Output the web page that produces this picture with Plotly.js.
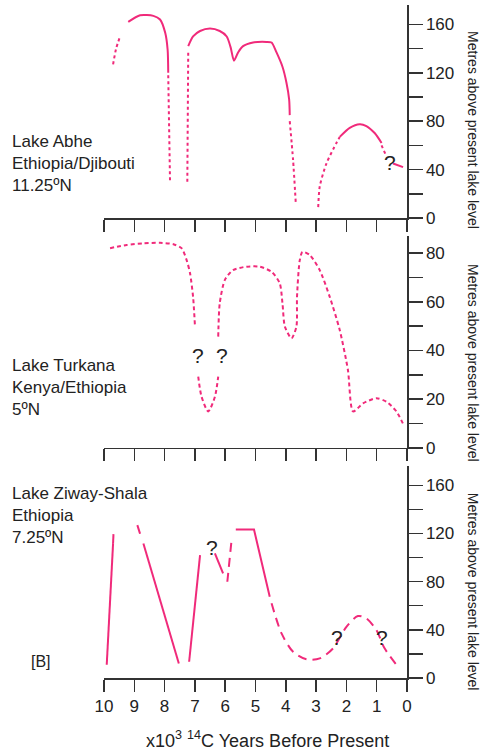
<!DOCTYPE html>
<html><head><meta charset="utf-8">
<script src="https://cdn.plot.ly/plotly-3.0.1.min.js"></script>
<style>html,body{margin:0;padding:0;background:#fff;}</style>
</head><body>
<div id="chart" style="width:482px;height:751px;"></div>
<script>
// ---- Data (x = 10^3 14C years BP, y = metres above present lake level) ----
// Lake Abhe
const abheSolidX = [9.2, 8.81, 8.37, 8.15, 7.98, 7.9, 7.88, null, 7.22, 7.06, 6.83, 6.5, 6.18, 5.95, 5.82, 5.71, 5.57, 5.41, 5.08, 4.64, 4.47, 4.31, 4.11, 3.98, 3.89, 3.87, null, 2.22, 1.89, 1.56, 1.34, 1.06, 0.84, null, 0.46, 0.13];
const abheSolidY = [162, 167.5, 167, 164, 153, 139, 120, null, 142, 150, 154.5, 156.5, 154.5, 150, 141, 130, 137, 142, 145, 145.5, 145, 137, 125, 112, 98, 85, null, 67, 74.5, 77.5, 76, 70, 62, null, 45, 42];
const abheDotX = [9.7, 9.6, 9.47, null, 7.88, 7.82, null, 7.25, 7.22, null, 3.87, 3.76, 3.67, null, 2.93, 2.88, 2.66, 2.33, 2.22, null, 0.84, 0.68];
const abheDotY = [127, 140, 150, null, 118, 29, null, 30, 137, null, 80, 48, 12, null, 9, 26, 45, 62, 67, null, 60, 51];
// Lake Turkana
const turkX = [9.8, 9.25, 8.7, 8.15, 7.71, 7.44, 7.27, 7.16, 7.06, 7.0, null, 6.89, 6.78, 6.56, 6.34, 6.23, null, 6.23, 6.18, 6.01, 5.74, 5.3, 4.86, 4.47, 4.2, 4.11, 4.03, 3.81, 3.65, 3.63, 3.54, 3.45, 3.21, 2.88, 2.55, 2.22, 1.95, 1.78, 1.45, 1.01, 0.68, 0.35, 0.11];
const turkY = [82, 83.3, 84, 84.2, 83.6, 82, 77, 71.7, 62, 50.5, null, 29.3, 21, 15, 21, 29.3, null, 45.7, 59.4, 69, 73, 74.4, 74.4, 72.3, 67.6, 59.4, 49.8, 45, 49.8, 62, 77, 80.5, 79.2, 73, 62, 48.4, 32, 15, 18.3, 20.4, 19, 15, 9.4];
// Lake Ziway-Shala
const ziwaySolidX = [9.91, 9.7, null, 8.7, 7.53, null, 7.19, 6.83, null, 6.34, 6.07, null, 5.65, 5.05, 4.53];
const ziwaySolidY = [11, 112, null, 111.7, 12, null, 13.5, 102, null, 103.4, 86.8, null, 123.3, 123.3, 67.4];
const ziwayDashX = [9.7, 9.68, null, 8.9, 8.76, null, 5.93, 5.79, null, 4.47, 4.14, 3.76, 3.32, 2.88, 2.44, 2.0, 1.62, 1.34, 1.01, 0.74, 0.3];
const ziwayDashY = [112, 124, null, 126.9, 115.8, null, 79.9, 114.4, null, 62, 37, 21.8, 15.5, 16.3, 24.6, 42.5, 51.4, 49.5, 39.8, 24.6, 9.4];

const xTicks = [10, 9, 8, 7, 6, 5, 4, 3, 2, 1, 0];
const panelLabels = ["Lake Abhe<br>Ethiopia/Djibouti<br>11.25ºN", "Lake Turkana<br>Kenya/Ethiopia<br>5ºN", "Lake Ziway-Shala<br>Ethiopia<br>7.25ºN"];
const yTitle = "Metres above present lake level";
const xTitle = "x10<sup>3</sup> <sup>14</sup>C Years Before Present";
// question marks: [x, y, axis]
const qMarks = [[0.56, 46, 'y'], [6.9, 38, 'y2'], [6.12, 38, 'y2'], [6.44, 108, 'y3'], [2.31, 34, 'y3'], [0.83, 34, 'y3']];

// ---- Styling ----
const PINK = '#f02a7a';
const FONT = 'Liberation Sans, Arial, sans-serif';
const AX = '#333';

const traces = [
  {x: abheSolidX, y: abheSolidY, xaxis: 'x', yaxis: 'y', mode: 'lines', line: {color: PINK, width: 2, shape: 'spline', smoothing: 0.7}},
  {x: abheDotX, y: abheDotY, xaxis: 'x', yaxis: 'y', mode: 'lines', line: {color: PINK, width: 2, shape: 'spline', smoothing: 0.7, dash: '3px,3px'}},
  {x: turkX, y: turkY, xaxis: 'x2', yaxis: 'y2', mode: 'lines', line: {color: PINK, width: 2, shape: 'spline', smoothing: 0.7, dash: '4px,3px'}},
  {x: ziwaySolidX, y: ziwaySolidY, xaxis: 'x3', yaxis: 'y3', mode: 'lines', line: {color: PINK, width: 2}},
  {x: ziwayDashX, y: ziwayDashY, xaxis: 'x3', yaxis: 'y3', mode: 'lines', line: {color: PINK, width: 2, shape: 'spline', smoothing: 0.8, dash: '9px,6px'}}
];

function xAxis(anchor, labels) {
  return {anchor: anchor, range: [10, 0], tickvals: xTicks, ticktext: xTicks.map(String),
    showticklabels: labels, ticks: 'outside', ticklen: 12, tickwidth: 1.5, tickcolor: AX,
    showline: true, linecolor: AX, linewidth: 1.5, showgrid: false, zeroline: false,
    tickfont: {family: FONT, size: 17, color: '#222'}, fixedrange: true};
}
function yAxis(anchor, domain, max, dtick) {
  return {anchor: anchor, domain: domain, range: [0, max], side: 'right', dtick: dtick, tick0: 0,
    ticks: 'outside', ticklen: 14, tickwidth: 1.5, tickcolor: AX,
    minor: {dtick: dtick / 2, ticks: 'outside', ticklen: 14, tickwidth: 1.5, tickcolor: AX, showgrid: false},
    showline: true, linecolor: AX, linewidth: 1.5, showgrid: false, zeroline: false,
    tickfont: {family: FONT, size: 17, color: '#222'}, fixedrange: true};
}

const annotations = [];
const labelY = [0.765, 0.431, 0.242];
panelLabels.forEach((t, i) => annotations.push({text: t, xref: 'paper', yref: 'paper', x: -0.31, y: labelY[i],
  xanchor: 'left', yanchor: 'middle', align: 'left', showarrow: false, font: {family: FONT, size: 17, color: '#222'}}));
[0.814, 0.468, 0.128].forEach(yy => annotations.push({text: yTitle, xref: 'paper', yref: 'paper', x: 1.218, y: yy,
  textangle: 90, showarrow: false, xanchor: 'center', yanchor: 'middle', font: {family: FONT, size: 14, color: '#222'}}));
annotations.push({text: xTitle, xref: 'paper', yref: 'paper', x: 0.541, y: -0.092, showarrow: false,
  xanchor: 'center', yanchor: 'middle', font: {family: FONT, size: 18, color: '#222'}});
annotations.push({text: '[B]', xref: 'paper', yref: 'paper', x: -0.208, y: 0.024, showarrow: false,
  xanchor: 'center', yanchor: 'middle', font: {family: FONT, size: 16, color: '#222'}});
qMarks.forEach(q => annotations.push({text: '?', x: q[0], y: q[1], xref: q[2] === 'y' ? 'x' : (q[2] === 'y2' ? 'x2' : 'x3'), yref: q[2],
  showarrow: false, xanchor: 'center', yanchor: 'middle', font: {family: FONT, size: 21, color: '#222'}}));

const layout = {
  width: 482, height: 751,
  margin: {l: 104, r: 75, t: 5, b: 73},
  paper_bgcolor: '#fff', plot_bgcolor: '#fff',
  showlegend: false,
  xaxis: xAxis('y', false),
  yaxis: yAxis('x', [0.6835, 1], 176, 40),
  xaxis2: xAxis('y2', false),
  yaxis2: yAxis('x2', [0.3418, 0.6568], 87, 20),
  xaxis3: xAxis('y3', true),
  yaxis3: yAxis('x3', [0, 0.315], 176, 40),
  annotations: annotations
};

Plotly.newPlot('chart', traces, layout, {displayModeBar: false, staticPlot: true});
</script>
</body></html>
